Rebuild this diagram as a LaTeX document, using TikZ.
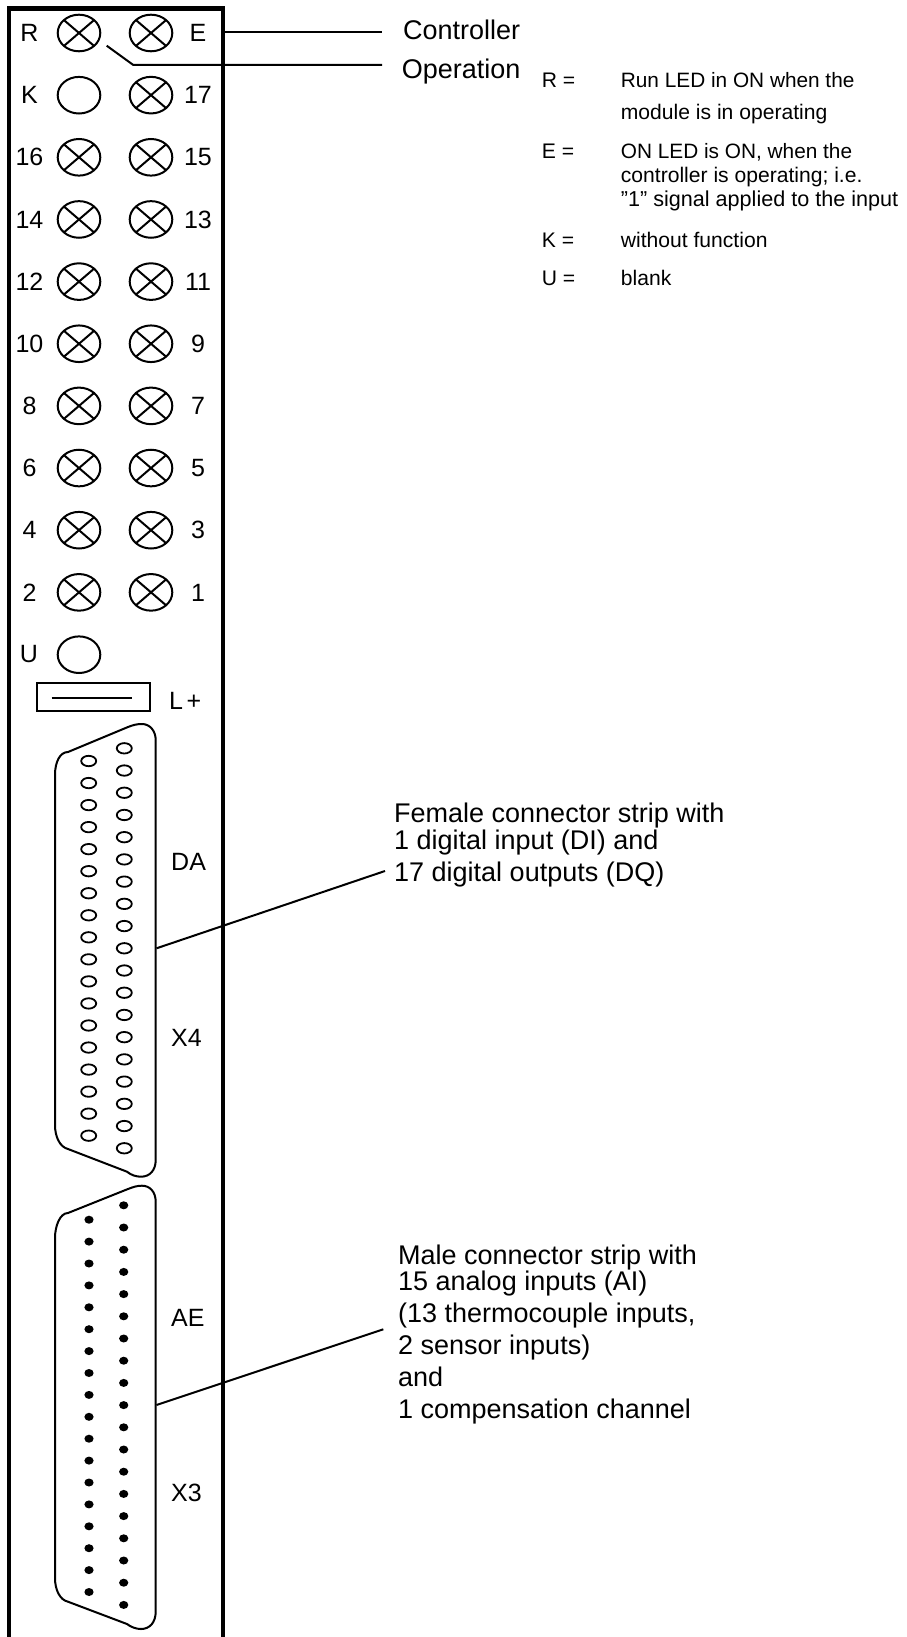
\documentclass[tikz,border=0pt]{standalone}
\usepackage{fontspec}
\setmainfont{Liberation Sans}
\usetikzlibrary{shapes.geometric}

\tikzset{
    led/.style={draw, ellipse, line width=2pt, minimum width=42.6pt, minimum height=36.6pt, inner sep=0pt, outer sep=0pt},
    ledx/.style={led, path picture={
        \draw[line width=2pt] (path picture bounding box.north west) -- (path picture bounding box.south east);
        \draw[line width=2pt] (path picture bounding box.north east) -- (path picture bounding box.south west);}},
    femalepin/.style={draw, ellipse, line width=1.8pt, minimum width=15pt, minimum height=10.4pt, inner sep=0pt},
    malepin/.style={fill=black, ellipse, minimum width=9.2pt, minimum height=8pt, inner sep=0pt},
    panellabel/.style={anchor=base, inner sep=0pt, font=\fontsize{25}{25}\selectfont},
    sidelabel/.style={anchor=base west, inner sep=0pt, font=\fontsize{25}{25}\selectfont},
    bigtext/.style={anchor=base west, inner sep=0pt, font=\fontsize{27}{27}\selectfont},
    smalltext/.style={anchor=base west, inner sep=0pt, font=\fontsize{21.1}{21}\selectfont},
    callout/.style={line width=2pt},
    shell/.style={line width=2pt}
}

\begin{document}
\begin{tikzpicture}[x=1pt, y=-1pt]
    \useasboundingbox (0,0) rectangle (906,1637);

    % the module frame
    \draw[line width=4.8pt] (9,8.5) rectangle (223,1639);

    % the leds and their labels
    \foreach \lefttxt/\i in {R/0, 16/2, 14/3, 12/4, 10/5, 8/6, 6/7, 4/8, 2/9} {
        \node[ledx] (ledl\i) at (79,{33+62.15*\i}) {};
        \node[panellabel] (txtl\i) at (29.5,{41.7+62.15*\i}) {\lefttxt};
    }
    \foreach \righttxt/\i in {E/0, 17/1, 15/2, 13/3, 11/4, 9/5, 7/6, 5/7, 3/8, 1/9} {
        \node[ledx] (ledr\i) at (151,{33+62.15*\i}) {};
        \node[panellabel] (txtr\i) at (198,{41.7+62.15*\i}) {\righttxt};
    }
    \node[led] (ledl1) at (79,95.2) {};
    \node[panellabel] (txtl1) at (29.5,103.9) {K};
    \node[led] (ledu) at (79,654.7) {};
    \node[panellabel] (txtu) at (29,662.6) {U};

    % the supply slot
    \node[draw, line width=2pt, minimum width=113pt, minimum height=28pt, inner sep=0pt] (slot) at (93,697.2) {};
    \coordinate (slotl) at (51.7,697.7);
    \coordinate (slotr) at (131.7,697.7);
    \draw[line width=2pt] (slotl) -- (slotr);
    \node[sidelabel] (lplus) at (169,709.3) {L\kern3.5pt+};

    % the female connector
    \draw[shell] (55,775) .. controls (55,762) and (60,752) .. (68,752) -- (128,727)
        .. controls (133,725) and (137,724) .. (142,724) .. controls (150,724) and (155.7,731) .. (155.7,740)
        -- (155.7,1160) .. controls (155.7,1170) and (150,1176.7) .. (141,1176.7)
        .. controls (136,1176.7) and (131,1175) .. (127,1171.7) -- (68,1149)
        .. controls (60,1147) and (55,1137) .. (55,1125) -- cycle;
    \foreach \i in {0,...,17} {
        \node[femalepin] (fl\i) at (88.7,{761+22.04*\i}) {};
    }
    \foreach \i in {0,...,18} {
        \node[femalepin] (fr\i) at (124.3,{748.3+22.22*\i}) {};
    }
    \node[sidelabel] (da) at (171,870.7) {DA};
    \node[sidelabel] (xfour) at (171,1046) {X4};

    % the male connector
    \draw[shell] (55,1238) .. controls (55,1226) and (60,1213) .. (68,1213) -- (128,1189)
        .. controls (133,1187) and (137,1185.7) .. (142,1185.7) .. controls (150,1185.7) and (155.7,1192) .. (155.7,1201.7)
        -- (155.7,1611.7) .. controls (155.7,1622) and (150,1629) .. (141,1629)
        .. controls (136,1629) and (131,1627) .. (127,1624) -- (68,1601.7)
        .. controls (60,1600) and (55,1590) .. (55,1578) -- cycle;
    \foreach \i in {0,...,17} {
        \node[malepin] (ml\i) at (89,{1219.7+21.9*\i}) {};
    }
    \foreach \i in {0,...,18} {
        \node[malepin] (mr\i) at (123.7,{1205.3+22.2*\i}) {};
    }
    \node[sidelabel] (ae) at (171,1326) {AE};
    \node[sidelabel] (xthree) at (171,1501) {X3};

    % the texts on the right
    \node[bigtext] (controller) at (403,40) {Controller};
    \node[bigtext] (operation) at (401.7,78.3) {Operation};
    %
    \node[smalltext] (keyr) at (541.7,88) {R =};
    \node[smalltext, font=\fontsize{20.8}{21}\selectfont] (keyra) at (620.7,88) {Run LED in ON when the};
    \node[smalltext] (keyrb) at (620.7,119.3) {module is in operating};
    \node[smalltext] (keye) at (541.7,158.7) {E =};
    \node[smalltext, font=\fontsize{20.8}{21}\selectfont] (keyea) at (620.7,158.7) {ON LED is ON, when the};
    \node[smalltext] (keyeb) at (620.7,182.7) {controller is operating; i.e.};
    \node[smalltext, font=\fontsize{21.6}{21}\selectfont] (keyec) at (620.7,206.7) {”1” signal applied to the input};
    \node[smalltext] (keyk) at (541.7,247.3) {K =};
    \node[smalltext] (keyka) at (620.7,247.3) {without function};
    \node[smalltext] (keyu) at (541.7,285.7) {U =};
    \node[smalltext] (keyua) at (620.7,285.7) {blank};
    %
    \node[bigtext] (femalea) at (394,822.3) {Female connector strip with};
    \node[bigtext] (femaleb) at (394,849.3) {1 digital input (DI) and};
    \node[bigtext] (femalec) at (394,881.7) {17 digital outputs (DQ)};
    %
    \node[bigtext] (malea) at (398,1264) {Male connector strip with};
    \node[bigtext] (maleb) at (398,1290.7) {15 analog inputs (AI)};
    \node[bigtext] (malec) at (398,1322.7) {(13 thermocouple inputs,};
    \node[bigtext] (maled) at (398,1354.3) {2 sensor inputs)};
    \node[bigtext] (malee) at (398,1386.3) {and};
    \node[bigtext] (malef) at (398,1418.3) {1 compensation channel};

    % the lines out to the texts
    \coordinate (ctrla) at (225,31.7);
    \coordinate (ctrlb) at (382,31.7);
    \coordinate (opa) at (106.7,45.7);
    \coordinate (opb) at (133.3,65);
    \coordinate (opc) at (382,65);
    \coordinate (femin) at (156.5,948.3);
    \coordinate (femout) at (385,871);
    \coordinate (malin) at (156.5,1405);
    \coordinate (malout) at (383.3,1329.3);
    \draw[callout] (ctrla) -- (ctrlb);
    \draw[callout] (opa) -- (opb) -- (opc);
    \draw[callout] (femin) -- (femout);
    \draw[callout] (malin) -- (malout);
\end{tikzpicture}
\end{document}
